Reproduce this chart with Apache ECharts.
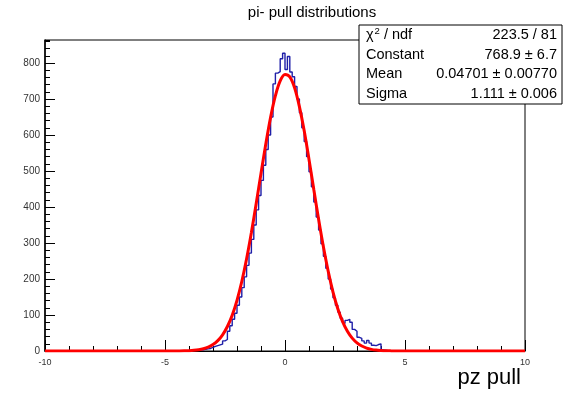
<!DOCTYPE html>
<html><head><meta charset="utf-8">
<script src="https://cdn.jsdelivr.net/npm/echarts@6/dist/echarts.min.js"></script>
<style>html,body{margin:0;padding:0;background:#fff}#c{width:578px;height:393px}</style>
</head><body><div id="c"></div>
<script>
// ---- data ----
const titleText = 'pi- pull distributions';
const xTitle = 'pz pull';
const binStart = -4.0;   // low edge of first listed bin
const binWidth = 0.1;
const histValues = [
  1, 1, 2, 2, 3, 3, 5, 6, 7, 10,
  13, 15, 17, 19, 28, 32, 55, 70, 88, 105,
  127, 150, 176, 206, 238, 272, 310, 350, 392, 432,
  474, 516, 560, 600, 650, 742, 772, 776, 812, 827,
  782, 818, 775, 762, 735, 700, 662, 620, 582, 540,
  498, 456, 414, 372, 336, 298, 263, 230, 200, 172,
  148, 127, 108, 91, 77, 85, 88, 80, 60, 55,
  38, 35, 28, 22, 29, 22, 16, 15, 18, 20,
  3, 2, 1, 1
];
const fitX = [-10, -4.4, -4.2, -4.0, -3.8, -3.6, -3.4, -3.2, -3.0, -2.8, -2.6, -2.4, -2.2, -2.0, -1.8, -1.6, -1.4, -1.2, -1.0, -0.8, -0.6, -0.4, -0.2, 0.0,
  0.2, 0.4, 0.6, 0.8, 1.0, 1.2, 1.4, 1.6, 1.8, 2.0, 2.2, 2.4, 2.6, 2.8, 3.0, 3.2, 3.4, 3.6, 3.8, 4.0, 4.2, 4.4, 4.6, 10];
const fitY = [0, 0.3, 0.5, 1.0, 1.9, 3.5, 6.2, 10.7, 17.9, 28.8, 45.0, 68.0, 99.4, 140.8, 193.0, 256.2, 329.3, 409.6, 493.2, 575, 649, 709.2, 750.2, 768.2,
  761.7, 731.1, 679.1, 611.6, 532.3, 448.4, 366.1, 289.5, 221.6, 163.9, 117.5, 81.6, 54.8, 35.7, 22.5, 13.8, 8.1, 4.6, 2.5, 1.4, 0.7, 0.35, 0.17, 0];
const xMin = -10, xMax = 10, xMajor = 5;
const yMin = 0, yMax = 864, yMajor = 100, yMinor = 20;
const statsRows = [
  ['{a|χ}{s|2}{a| / ndf}', '223.5 / 81'],
  ['Constant', '768.9 ± 6.7'],
  ['Mean', '0.04701 ± 0.00770'],
  ['Sigma', '1.111 ± 0.006']
];

// ---- build ----
const FONT = '"Liberation Sans", Arial, Helvetica, sans-serif';
const histData = [[xMin, 0]];
histValues.forEach((v, i) => histData.push([+(binStart + i * binWidth).toFixed(2), v]));
histData.push([+(binStart + histValues.length * binWidth).toFixed(2), 0]);
histData.push([xMax, 0]);
const fitData = fitX.map((x, i) => [x, fitY[i]]);

const G = {left: 45, right: 53, top: 40, bottom: 42};
const statBox = {x: 359, y: 25, w: 203, h: 79};
const SF = '14.5px ' + FONT;
const graphics = [
  {type: 'text', z: 100,
   style: {text: titleText, x: 312, y: 13, align: 'center', verticalAlign: 'middle', font: '15px ' + FONT, fill: '#000'}},
  {type: 'text', z: 100, style: {text: xTitle, x: 521, y: 378, align: 'right', verticalAlign: 'middle', font: '22px ' + FONT, fill: '#000'}},
  {type: 'rect', z: 100, shape: {x: statBox.x, y: statBox.y, width: statBox.w, height: statBox.h},
   style: {fill: '#fff', stroke: '#000', lineWidth: 1}}
];
statsRows.forEach((r, i) => {
  const cy = statBox.y + 10 + i * 19.5;
  graphics.push({type: 'text', z: 101, style: {
    text: r[0], x: statBox.x + 7, y: cy, verticalAlign: 'middle', align: 'left',
    font: SF, fill: '#000',
    rich: {a: {font: SF, fill: '#000'}, s: {font: '9.5px ' + FONT, fill: '#000', padding: [0, 0, 7, 1]}}
  }});
  graphics.push({type: 'text', z: 101, style: {
    text: r[1], x: statBox.x + statBox.w - 5, y: cy, verticalAlign: 'middle', align: 'right',
    font: SF, fill: '#000'
  }});
});

const chart = echarts.init(document.getElementById('c'), null, {renderer: 'canvas'});
chart.setOption({
  animation: false,
  backgroundColor: '#fff',
  grid: {left: G.left, right: G.right, top: G.top, bottom: G.bottom, show: true, borderColor: '#000', borderWidth: 1, backgroundColor: 'transparent'},
  xAxis: {
    type: 'value', min: xMin, max: xMax, interval: xMajor,
    axisLine: {show: true, onZero: false, lineStyle: {color: '#000', width: 1.2}},
    axisTick: {show: true, inside: true, length: 11, lineStyle: {color: '#000', width: 1}},
    minorTick: {show: true, splitNumber: 5, length: 5, lineStyle: {color: '#000', width: 1}},
    axisLabel: {show: true, margin: 7, fontSize: 9, fontFamily: FONT, color: '#333'},
    splitLine: {show: false}
  },
  yAxis: [{
    type: 'value', min: yMin, max: yMax, interval: yMajor,
    axisLine: {show: true, onZero: false, lineStyle: {color: '#000', width: 1.5}},
    axisTick: {show: true, inside: true, length: 10, lineStyle: {color: '#000', width: 1}},
    axisLabel: {show: true, margin: 5, fontSize: 10, fontFamily: FONT, color: '#333', showMaxLabel: false,
      formatter: v => (v % yMajor === 0 ? String(v) : '')},
    splitLine: {show: false}
  }, {
    type: 'value', min: yMin, max: yMax, interval: yMinor, position: 'left', offset: 0,
    axisLine: {show: false, onZero: false},
    axisTick: {show: true, inside: true, length: 5, lineStyle: {color: '#000', width: 1}},
    axisLabel: {show: false},
    splitLine: {show: false}
  }],
  series: [{
    type: 'line', name: 'hist', data: histData, step: 'end', yAxisIndex: 0,
    showSymbol: false, symbol: 'none',
    lineStyle: {color: '#1f1fa8', width: 1.4}, z: 3
  }, {
    type: 'line', name: 'fit', data: fitData, smooth: 0.35, yAxisIndex: 0,
    showSymbol: false, symbol: 'none',
    lineStyle: {color: '#ff0000', width: 3}, z: 4
  }],
  graphic: graphics
});
</script></body></html>
